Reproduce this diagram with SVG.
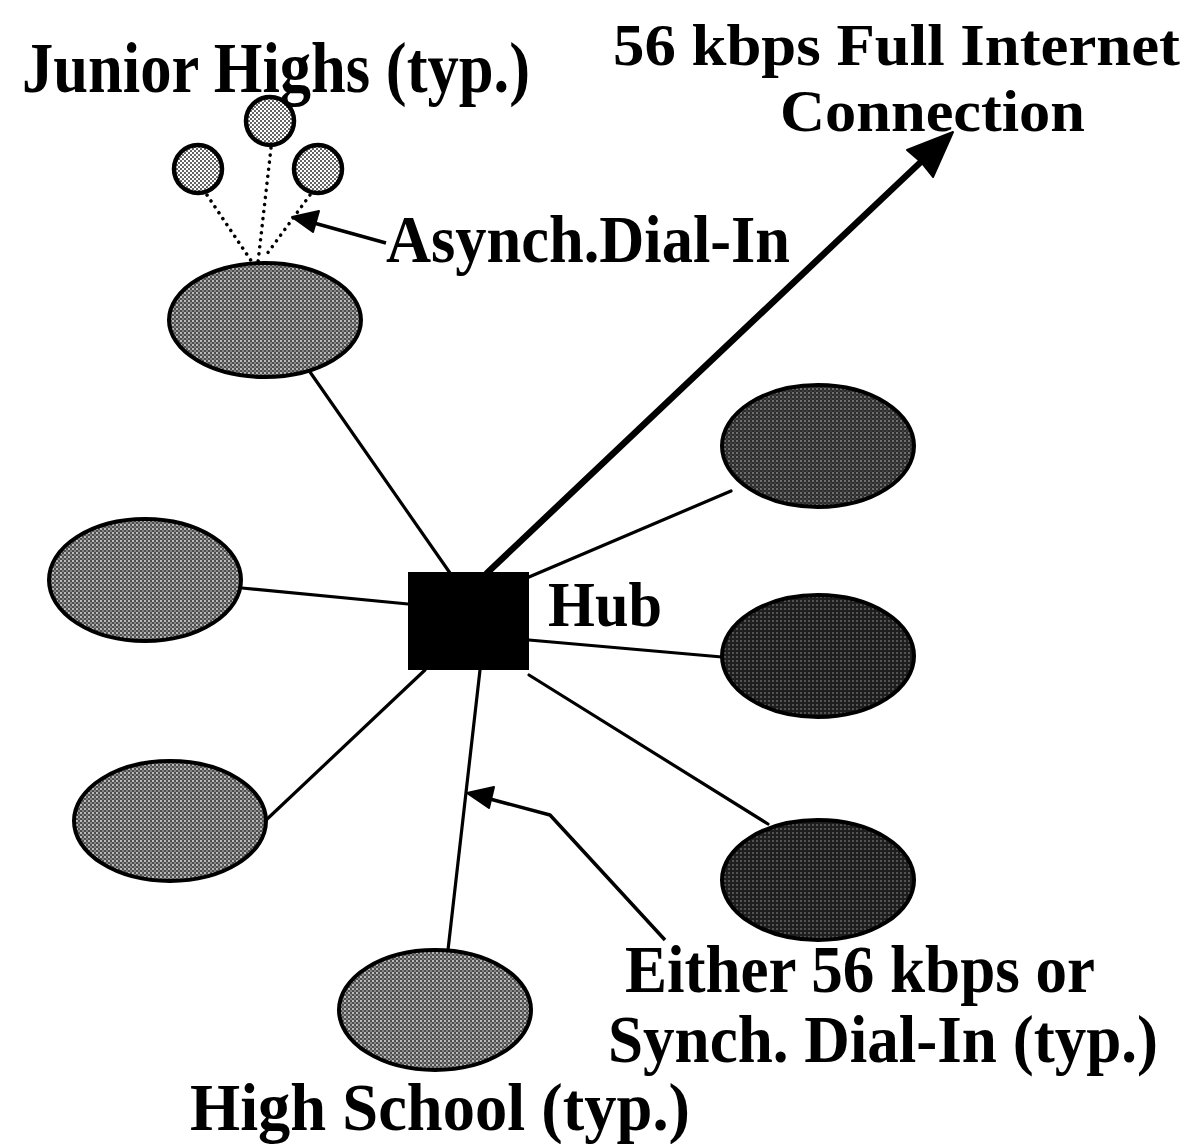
<svg xmlns="http://www.w3.org/2000/svg" width="1202" height="1144" viewBox="0 0 1202 1144">
  <defs>
    <!-- halftone-like fills -->
    <pattern id="dotsLight" width="4" height="4" patternUnits="userSpaceOnUse">
      <rect width="4" height="4" fill="#ffffff"/>
      <circle cx="1" cy="1" r="0.95" fill="#222"/>
      <circle cx="3" cy="3" r="0.95" fill="#222"/>
    </pattern>
    <pattern id="dotsMid" width="4" height="4" patternUnits="userSpaceOnUse">
      <rect width="4" height="4" fill="#4e4e4e"/>
      <circle cx="1" cy="1" r="0.9" fill="#eeeeee"/>
      <circle cx="3" cy="3" r="0.8" fill="#cccccc"/>
    </pattern>
    <pattern id="dotsDark" width="4" height="4" patternUnits="userSpaceOnUse">
      <rect width="4" height="4" fill="#2c2c2c"/>
      <circle cx="1" cy="1" r="0.8" fill="#c4c4c4"/>
      <circle cx="3" cy="3" r="0.5" fill="#8a8a8a"/>
    </pattern>
    <pattern id="dotsDarker" width="4" height="4" patternUnits="userSpaceOnUse">
      <rect width="4" height="4" fill="#1e1e1e"/>
      <circle cx="1" cy="1" r="0.7" fill="#b0b0b0"/>
    </pattern>
  </defs>
  <style>
    .lbl { font-family: "Liberation Serif", "Times New Roman", serif; font-weight: bold; fill: #000; }
    .link { stroke: #000; stroke-width: 3.2; fill: none; stroke-linecap: round; }
    .dial { stroke: #000; stroke-width: 3.5; fill: none; stroke-dasharray: 0.1 7; stroke-linecap: round; }
    .site { stroke: #000; stroke-width: 4; }
    .jr { stroke: #000; stroke-width: 4.5; fill: url(#dotsLight); }
    .ptr { stroke: #000; stroke-width: 3.5; fill: none; stroke-linejoin: round; }
  </style>

  <rect width="1202" height="1144" fill="#fff"/>

  <!-- connectors -->
  <g id="connectors">
    <line class="link" x1="310" y1="372" x2="450" y2="573"/>
    <line class="link" x1="242" y1="588" x2="408" y2="604"/>
    <line class="link" x1="264" y1="822" x2="425" y2="670"/>
    <line class="link" x1="448" y1="950" x2="480" y2="670"/>
    <line class="link" x1="529" y1="577" x2="731" y2="491"/>
    <line class="link" x1="529" y1="640" x2="722" y2="657"/>
    <line class="link" x1="529" y1="675" x2="768" y2="824"/>
    <!-- dial-in links to junior highs -->
    <line class="dial" x1="207" y1="195" x2="252" y2="262"/>
    <line class="dial" x1="271" y1="148" x2="258" y2="262"/>
    <line class="dial" x1="310" y1="195" x2="264" y2="258"/>
    <!-- internet uplink -->
    <g id="uplink">
      <line x1="487" y1="573" x2="925" y2="158" stroke="#000" stroke-width="6.5" stroke-linecap="round"/>
      <polygon points="953,132 933,177 921,162 907,150" fill="#000" stroke="#000" stroke-width="2" stroke-linejoin="round"/>
    </g>
    <!-- asynch callout -->
    <polyline class="ptr" points="314,223 386,243"/>
    <polygon points="292,217 319,211 313,232" fill="#000" stroke="#000" stroke-width="2" stroke-linejoin="round"/>
    <!-- either callout -->
    <polyline class="ptr" points="490,799 550,815 665,940"/>
    <polygon points="467,793 494,787 489,808" fill="#000" stroke="#000" stroke-width="2" stroke-linejoin="round"/>
  </g>

  <!-- junior high nodes -->
  <g id="jr1"><circle class="jr" cx="198" cy="169" r="24"/></g>
  <g id="jr2"><circle class="jr" cx="270" cy="121" r="24"/></g>
  <g id="jr3"><circle class="jr" cx="318" cy="169" r="24"/></g>

  <!-- school nodes -->
  <g id="school-nw"><ellipse class="site" cx="265" cy="320" rx="96" ry="57" fill="url(#dotsMid)"/></g>
  <g id="school-w"><ellipse class="site" cx="145" cy="580" rx="96" ry="61" fill="url(#dotsMid)"/></g>
  <g id="school-sw"><ellipse class="site" cx="170" cy="821" rx="96" ry="60" fill="url(#dotsMid)"/></g>
  <g id="school-s"><ellipse class="site" cx="435" cy="1010" rx="96" ry="60" fill="url(#dotsMid)"/></g>
  <g id="school-ne"><ellipse class="site" cx="818" cy="446" rx="96" ry="61" fill="url(#dotsDark)"/></g>
  <g id="school-e"><ellipse class="site" cx="818" cy="656" rx="96" ry="61" fill="url(#dotsDarker)"/></g>
  <g id="school-se"><ellipse class="site" cx="818" cy="880" rx="96" ry="60" fill="url(#dotsDarker)"/></g>

  <!-- hub -->
  <g id="hub">
    <rect x="408" y="572" width="121" height="98" fill="#000"/>
    <text class="lbl" x="548" y="626" font-size="64" textLength="114" lengthAdjust="spacingAndGlyphs">Hub</text>
  </g>

  <!-- labels -->
  <g id="labels">
    <text class="lbl" x="22" y="92" font-size="72" textLength="508" lengthAdjust="spacingAndGlyphs">Junior Highs (typ.)</text>
    <text class="lbl" x="613" y="65" font-size="59" textLength="567" lengthAdjust="spacingAndGlyphs">56 kbps Full Internet</text>
    <text class="lbl" x="780" y="131" font-size="59" textLength="305" lengthAdjust="spacingAndGlyphs">Connection</text>
    <text class="lbl" x="386" y="262" font-size="68" textLength="404" lengthAdjust="spacingAndGlyphs">Asynch.Dial-In</text>
    <text class="lbl" x="625" y="992" font-size="67" textLength="470" lengthAdjust="spacingAndGlyphs">Either 56 kbps or</text>
    <text class="lbl" x="608" y="1062" font-size="67" textLength="550" lengthAdjust="spacingAndGlyphs">Synch. Dial-In (typ.)</text>
    <text class="lbl" x="190" y="1130" font-size="68" textLength="500" lengthAdjust="spacingAndGlyphs">High School (typ.)</text>
  </g>
</svg>
